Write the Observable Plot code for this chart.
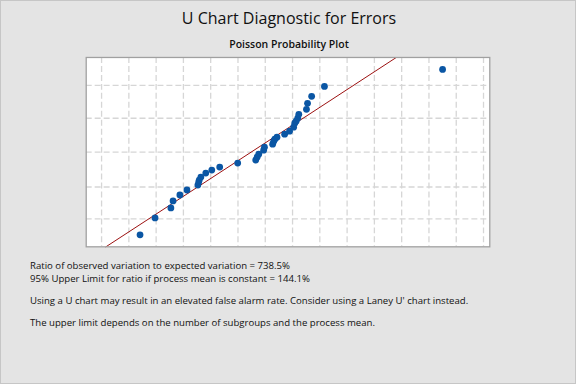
<!DOCTYPE html>
<html>
<head>
<meta charset="utf-8">
<script src="https://cdn.jsdelivr.net/npm/d3@7"></script>
<script src="https://cdn.jsdelivr.net/npm/@observablehq/plot@0.6"></script>
<style>
  html, body { margin: 0; padding: 0; }
  body { width: 576px; height: 384px; overflow: hidden; background: #e4e4e4; }
  #page { position: relative; width: 574px; height: 382px; border: 1px solid #c6c6c6; background: #e4e4e4; font-family: "Open Sans", "Noto Sans", sans-serif; color: #111; }
  #title { position: absolute; left: 0; width: 576px; top: 6px; text-align: center; font-size: 16px; }
  #subtitle { position: absolute; left: 0; width: 576px; top: 36px; text-align: center; font-size: 10.5px; font-weight: 600; }
  #chart { position: absolute; left: 0; top: 50px; }
  .note { position: absolute; left: 29px; font-size: 9.6px; line-height: 11px; height: 11px; white-space: nowrap; letter-spacing: 0px; }
</style>
</head>
<body>
<div id="page">
  <div id="title">U Chart Diagnostic for Errors</div>
  <div id="subtitle">Poisson Probability Plot</div>
  <div id="chart"></div>
  <div class="note" style="top:258.5px">Ratio of observed variation to expected variation = 738.5%</div>
  <div class="note" style="top:272px">95% Upper Limit for ratio if process mean is constant = 144.1%</div>
  <div class="note" style="top:294px">Using a U chart may result in an elevated false alarm rate. Consider using a Laney U' chart instead.</div>
  <div class="note" style="top:316px">The upper limit depends on the number of subgroups and the process mean.</div>
</div>
<script>
// Observed (x) and probability-scale (y) positions of the 35 subgroups
const obsX = [2.41, 2.96, 3.54, 3.62, 3.87, 4.13, 4.53, 4.56, 4.58, 4.64, 4.82, 5.04, 5.33, 5.99,
  6.65, 6.70, 6.76, 6.94, 6.97, 7.27, 7.31, 7.35, 7.43, 7.71, 7.89, 8.04, 8.08, 8.13, 8.19, 8.23,
  8.51, 8.55, 8.70, 9.17, 13.50];
const probY = [1.2, 2.9, 3.9, 4.6, 5.2, 5.7, 6.2, 6.5, 6.7, 7.0, 7.4, 7.7, 8.0, 8.4,
  8.7, 9.0, 9.3, 9.7, 10.0, 10.3, 10.6, 10.8, 11.0, 11.3, 11.6, 12.0, 12.4, 12.6, 12.9, 13.3,
  13.8, 14.4, 15.1, 16.1, 17.8];
// Fitted Poisson reference line
const fitX = [1.16, 11.78];
const fitY = [0, 18.96];
// Grid positions
const xTicks = [1, 2, 3, 4, 5, 6, 7, 8, 9, 10, 11, 12, 13, 14, 15];
const yTicks = [2.8, 6.0, 9.5, 12.9, 16.2];

const points = obsX.map((x, i) => ({x, y: probY[i]}));
const fit = fitX.map((x, i) => ({x, y: fitY[i]}));

const gridStyle = {stroke: "#d6d6d6", strokeOpacity: 1, strokeWidth: 1.3, strokeDasharray: "6,3"};

const chart = Plot.plot({
  width: 576,
  height: 200,
  marginLeft: 85,
  marginRight: 86,
  marginTop: 6,
  marginBottom: 4,
  x: {domain: [0.437, 15.23], axis: null},
  y: {domain: [0, 19], axis: null},
  style: {background: "transparent"},
  marks: [
    Plot.frame({fill: "white", stroke: "none"}),
    Plot.gridX(xTicks, gridStyle),
    Plot.gridY(yTicks, gridStyle),
    Plot.line(fit, {x: "x", y: "y", stroke: "#9c1010", strokeWidth: 1}),
    Plot.dot(points, {x: "x", y: "y", r: 3.4, fill: "#0a56a4", stroke: "none"}),
    Plot.frame({stroke: "#a0a0a0", strokeWidth: 1.3})
  ]
});
document.getElementById("chart").appendChild(chart);
</script>
</body>
</html>
